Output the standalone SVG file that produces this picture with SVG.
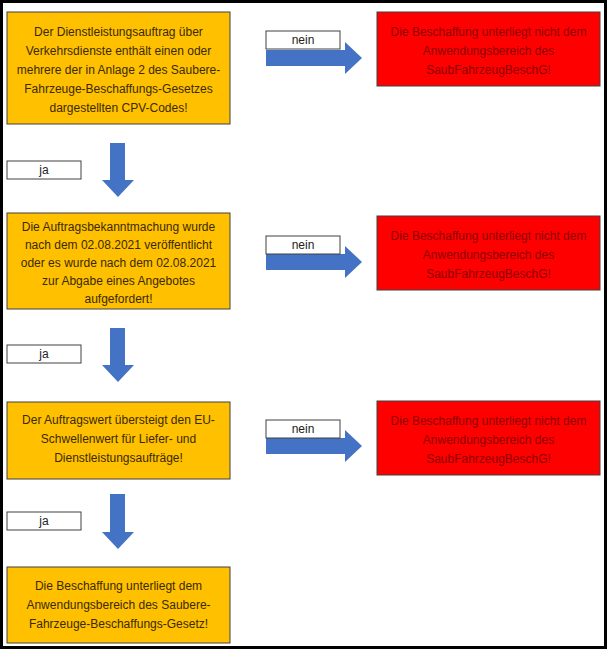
<svg xmlns="http://www.w3.org/2000/svg" width="608" height="650" viewBox="0 0 608 650">
<style>
.y{fill:#ffc000;stroke:#404040;stroke-width:1}
.r{fill:#ff0000;stroke:#404040;stroke-width:1}
.l{fill:#fff;stroke:#404040;stroke-width:1}
.a{fill:#4472c4}
text{font-family:"Liberation Sans",Arial,sans-serif;font-size:12px;text-anchor:middle}
.tr{fill:#8b0000}
.ty{fill:#3a2a00}
.tl{fill:#222}
</style>
<rect x="1.5" y="1.5" width="604" height="646" fill="#fff" stroke="#000" stroke-width="3"/>
<g id="connectors">
<path class="a" d="M266 50H345V42L362 58L345 74V66H266Z"/>
<path class="a" d="M266 254H345V246L362 262L345 278V270H266Z"/>
<path class="a" d="M266 438H345V430L362 446L345 462V454H266Z"/>
<path class="a" d="M110 143H125V180H134L118 197L102 180H110Z"/>
<path class="a" d="M110 328H125V365H134L118 382L102 365H110Z"/>
<path class="a" d="M110 494H125V532H134L118 549L102 532H110Z"/>
</g>
<g id="labels">
<rect class="l" x="266" y="31" width="74" height="18"/><text class="tl" x="303" y="44">nein</text>
<rect class="l" x="266" y="236" width="74" height="18"/><text class="tl" x="303" y="249">nein</text>
<rect class="l" x="266" y="420" width="74" height="18"/><text class="tl" x="303" y="433">nein</text>
<rect class="l" x="7" y="161" width="74" height="18"/><text class="tl" x="44" y="174">ja</text>
<rect class="l" x="7" y="345" width="74" height="18"/><text class="tl" x="44" y="358">ja</text>
<rect class="l" x="7" y="512" width="74" height="18"/><text class="tl" x="44" y="525">ja</text>
</g>
<g id="q1"><rect class="y" x="7" y="12" width="223" height="112"/>
<text class="ty" x="118.5" y="36">Der Dienstleistungsauftrag über</text>
<text class="ty" x="118.5" y="55">Verkehrsdienste enthält einen oder</text>
<text class="ty" x="118.5" y="74">mehrere der in Anlage 2 des Saubere-</text>
<text class="ty" x="118.5" y="93">Fahrzeuge-Beschaffungs-Gesetzes</text>
<text class="ty" x="118.5" y="112">dargestellten CPV-Codes!</text></g>
<g id="n1"><rect class="r" x="377" y="12" width="223" height="74"/>
<text class="tr" x="488.5" y="36">Die Beschaffung unterliegt nicht dem</text>
<text class="tr" x="488.5" y="55">Anwendungsbereich des</text>
<text class="tr" x="488.5" y="74">SaubFahrzeugBeschG!</text></g>
<g id="q2"><rect class="y" x="7" y="213" width="223" height="96"/>
<text class="ty" x="118.5" y="231">Die Auftragsbekanntmachung wurde</text>
<text class="ty" x="118.5" y="249">nach dem 02.08.2021 veröffentlicht</text>
<text class="ty" x="118.5" y="267">oder es wurde nach dem 02.08.2021</text>
<text class="ty" x="118.5" y="285">zur Abgabe eines Angebotes</text>
<text class="ty" x="118.5" y="303">aufgefordert!</text></g>
<g id="n2"><rect class="r" x="377" y="216" width="223" height="74"/>
<text class="tr" x="488.5" y="240">Die Beschaffung unterliegt nicht dem</text>
<text class="tr" x="488.5" y="259">Anwendungsbereich des</text>
<text class="tr" x="488.5" y="278">SaubFahrzeugBeschG!</text></g>
<g id="q3"><rect class="y" x="7" y="402" width="223" height="77"/>
<text class="ty" x="118.5" y="424">Der Auftragswert übersteigt den EU-</text>
<text class="ty" x="118.5" y="443">Schwellenwert für Liefer- und</text>
<text class="ty" x="118.5" y="462">Dienstleistungsaufträge!</text></g>
<g id="n3"><rect class="r" x="377" y="401" width="223" height="74"/>
<text class="tr" x="488.5" y="425">Die Beschaffung unterliegt nicht dem</text>
<text class="tr" x="488.5" y="444">Anwendungsbereich des</text>
<text class="tr" x="488.5" y="463">SaubFahrzeugBeschG!</text></g>
<g id="r4"><rect class="y" x="7" y="567" width="223" height="76"/>
<text class="ty" x="118.5" y="590">Die Beschaffung unterliegt dem</text>
<text class="ty" x="118.5" y="609">Anwendungsbereich des Saubere-</text>
<text class="ty" x="118.5" y="628">Fahrzeuge-Beschaffungs-Gesetz!</text></g>
</svg>
